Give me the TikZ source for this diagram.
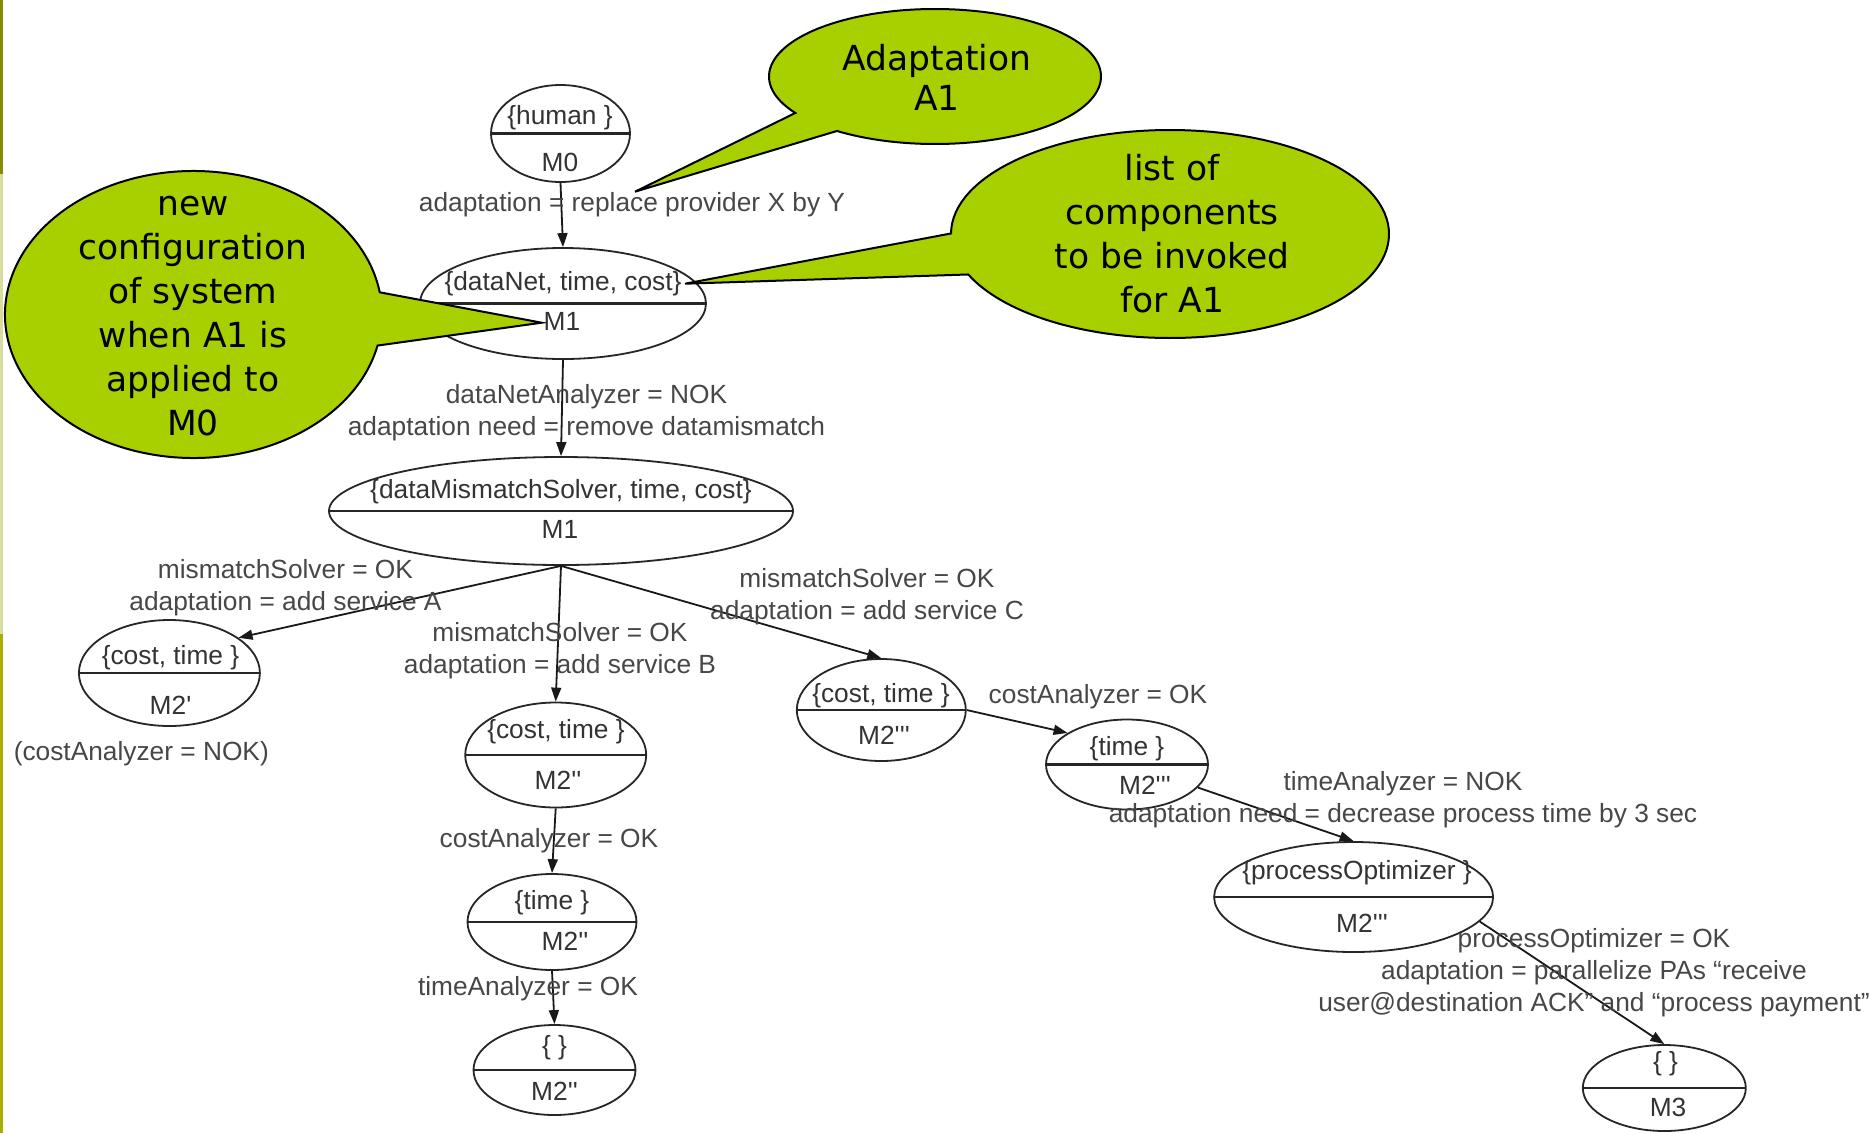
\documentclass[tikz,border=0pt]{standalone}
\usepackage{fontspec}
\newfontfamily\labfont{Liberation Sans}
\newfontfamily\bubfont{DejaVu Sans}
\usetikzlibrary{arrows.meta,calc,shapes.geometric}
\definecolor{bubgreen}{RGB}{168,208,0}
\definecolor{stripedark}{RGB}{138,138,0}
\definecolor{stripepale}{RGB}{216,220,156}
\definecolor{stripelow}{RGB}{170,174,0}
\tikzset{
  state/.style={draw=black!85, line width=1.8pt, ellipse, inner sep=0pt,
    path picture={\draw[black!85, line width=2.4pt]
      (path picture bounding box.west) -- (path picture bounding box.east);}},
  stext/.style={inner sep=0pt, text=black!80,
    font=\labfont\fontsize{26.3}{32}\selectfont},
  ltext/.style={inner sep=0pt, text=black!72, align=center,
    font=\labfont\fontsize{26.3}{32}\selectfont},
  arr/.style={draw=black!90, line width=1.8pt,
    -{Triangle[length=14pt,width=10pt]}},
  bubble/.style={fill=bubgreen, draw=black, line width=2pt, line join=miter},
  btext/.style={inner sep=0pt, align=center, text=black,
    font=\bubfont\fontsize{34.5}{44}\selectfont},
}
\begin{document}
\begin{tikzpicture}[x=1pt,y=-1pt]
\useasboundingbox (0,0) rectangle (1870,1133);
\fill[white] (0,0) rectangle (1870,1133);

% slide edge stripe
\fill[stripedark] (0,0) rectangle (3,174);
\fill[stripepale] (0,174) rectangle (3,634);
\fill[stripelow] (0,634) rectangle (3,1133);

% states
\node[state, minimum width=139pt, minimum height=97pt]  (m0)   at (560.5,133.5) {};
\node[state, minimum width=286pt, minimum height=111pt] (m1a)  at (563,303.5) {};
\node[state, minimum width=464pt, minimum height=108pt] (m1b)  at (561,511) {};
\node[state, minimum width=181pt, minimum height=106pt] (m2a)  at (169.4,673) {};
\node[state, minimum width=181pt, minimum height=105pt] (m2b)  at (555.7,755) {};
\node[state, minimum width=169pt, minimum height=96pt]  (m2bt) at (552,922) {};
\node[state, minimum width=162pt, minimum height=90pt]  (m2be) at (554.5,1070) {};
\node[state, minimum width=169pt, minimum height=102pt] (m2c)  at (881.3,710) {};
\node[state, minimum width=162pt, minimum height=90pt]  (m2ct) at (1127,764.5) {};
\node[state, minimum width=279pt, minimum height=110pt] (po)   at (1353.6,897) {};
\node[state, minimum width=163pt, minimum height=86pt]  (m3)   at (1664.3,1088) {};

% state contents
\node[stext] (m0-t)   at (560,118)     {\{human \}};
\node[stext] (m0-b)   at (560,162)     {M0};
\node[stext] (m1a-t)  at (563,284)     {\{dataNet, time, cost\}};
\node[stext] (m1a-b)  at (562,321.5)   {M1};
\node[stext] (m1b-t)  at (561,492)     {\{dataMismatchSolver, time, cost\}};
\node[stext] (m1b-b)  at (560,529)     {M1};
\node[stext] (m2a-t)  at (170.5,657.6) {\{cost, time \}};
\node[stext] (m2a-b)  at (170.5,705)   {M2'};
\node[stext] (m2b-t)  at (556,732)     {\{cost, time \}};
\node[stext] (m2b-b)  at (558,780)     {M2''};
\node[stext] (m2bt-t) at (552,903)     {\{time \}};
\node[stext] (m2bt-b) at (565,941)     {M2''};
\node[stext] (m2be-t) at (554.5,1048)  {\{ \}};
\node[stext] (m2be-b) at (554.5,1091)  {M2''};
\node[stext] (m2c-t)  at (881,696)     {\{cost, time \}};
\node[stext] (m2c-b)  at (884,735)     {M2'''};
\node[stext] (m2ct-t) at (1127,749)    {\{time \}};
\node[stext] (m2ct-b) at (1145,785.5)  {M2'''};
\node[stext] (po-t)   at (1357,873)    {\{processOptimizer \}};
\node[stext] (po-b)   at (1362,923)    {M2'''};
\node[stext] (m3-t)   at (1665.5,1063.7) {\{ \}};
\node[stext] (m3-b)   at (1668,1107)   {M3};

% transitions
\draw[arr] (m0.south) -- (m1a.north);
\draw[arr] (m1a.south) -- (m1b.north);
\draw[arr] (m1b.south) -- (m2a.27);
\draw[arr] (m1b.south) -- (m2b.north);
\draw[arr] (m1b.south) -- (m2c.north);
\draw[arr] (m2b.south) -- (m2bt.north);
\draw[arr] (m2bt.south) -- (m2be.north);
\draw[arr] (m2c.east) -- (m2ct.152);
\draw[arr] (m2ct.-18) -- (po.north);
\draw[arr] (po.-11) -- (m3.north);

% transition labels
\node[ltext] (l0)   at (632,205)   {adaptation = replace provider X by Y};
\node[ltext] (l1)   at (586.5,413) {dataNetAnalyzer = NOK\\adaptation need = remove datamismatch};
\node[ltext] (la)   at (285.5,588) {mismatchSolver = OK\\adaptation = add service A};
\node[ltext] (lb)   at (560,651)   {mismatchSolver = OK\\adaptation = add service B};
\node[ltext] (lc)   at (867,597)   {mismatchSolver = OK\\adaptation = add service C};
\node[ltext] (lca)  at (1098,696.6) {costAnalyzer = OK};
\node[ltext] (ltn)  at (1403,800)  {timeAnalyzer = NOK\\adaptation need = decrease process time by 3 sec};
\node[ltext] (lpo)  at (1594,973)  {processOptimizer = OK\\adaptation = parallelize PAs “receive\\user@destination ACK” and “process payment”};
\node[ltext] (lmc)  at (549,841)   {costAnalyzer = OK};
\node[ltext] (lmt)  at (528,989)   {timeAnalyzer = OK};
\node[ltext] (lnok) at (141.3,753.7) {(costAnalyzer = NOK)};

% callouts
\coordinate (ca) at (935,76.5);
\coordinate (tipa) at (635,191.7);
\draw[bubble] ($(ca)+(147.3:166 and 67.5)$)
  arc[start angle=147.3, end angle=486.2, x radius=166, y radius=67.5]
  -- (tipa) -- cycle;
\node[btext, font=\bubfont\fontsize{34.5}{40}\selectfont] (ta) at (937,77) {Adaptation\\A1};

\coordinate (cb) at (1170,234);
\coordinate (tipb) at (685,283.7);
\draw[bubble] ($(cb)+(180.3:219 and 104)$)
  arc[start angle=180.3, end angle=517.1, x radius=219, y radius=104]
  -- (tipb) -- cycle;
\node[btext] (tb) at (1172,234) {list of\\components\\to be invoked\\for A1};

\coordinate (cc) at (193.5,314.5);
\coordinate (tipc) at (541.7,322.7);
\draw[bubble] ($(cc)+(12.5:188.5 and 143.5)$)
  arc[start angle=12.5, end angle=351.1, x radius=188.5, y radius=143.5]
  -- (tipc) -- cycle;
\node[btext] (tc) at (193,316) {new\\configuration\\of system\\when A1 is\\applied to\\M0};
\end{tikzpicture}
\end{document}
